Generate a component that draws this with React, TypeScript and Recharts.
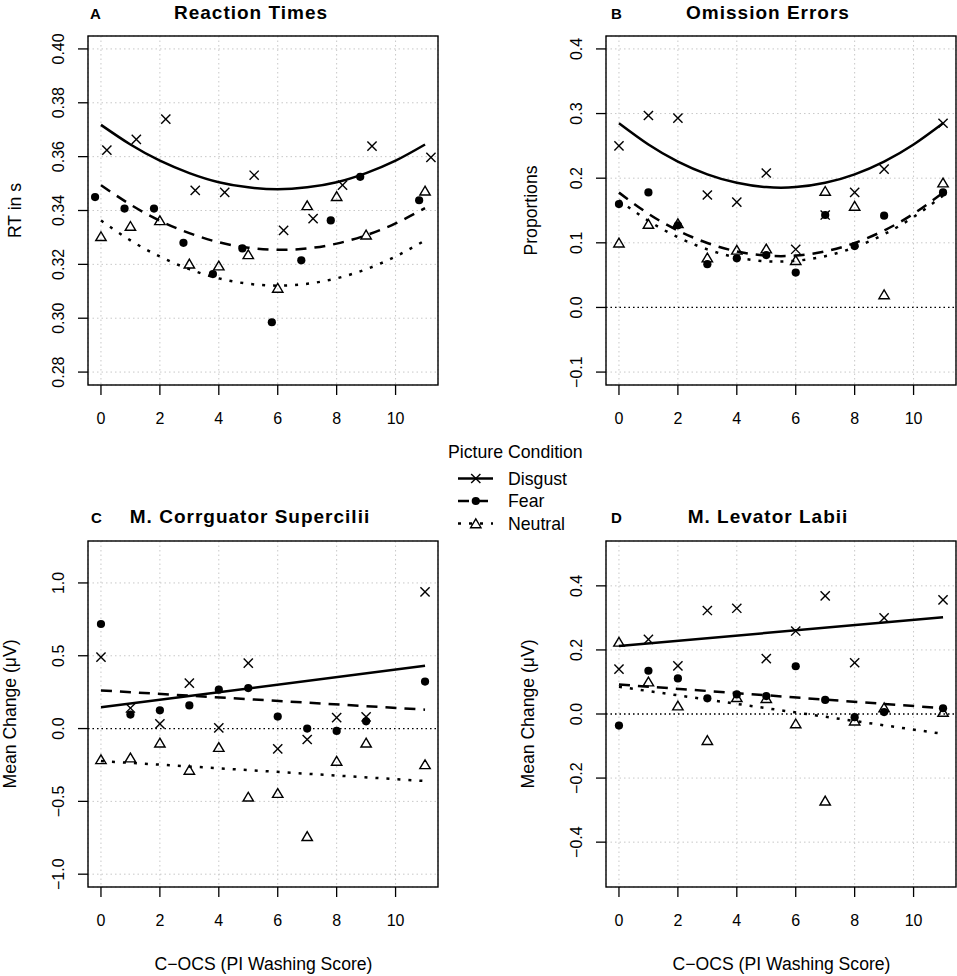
import React from "react";
import {
  CartesianGrid,
  ComposedChart,
  Line,
  ReferenceLine,
  Scatter,
  XAxis,
  YAxis,
} from "recharts";

const FONT = '"Liberation Sans", Arial, Helvetica, sans-serif';
const INK = "#000";
const GRID = "#c8c8c8";

// C-OCS washing scores that occur in the sample (no 10)
const washScore = [0, 1, 2, 3, 4, 5, 6, 7, 8, 9, 11];
const curveX = [0, 1, 2, 3, 4, 5, 6, 7, 8, 9, 10, 11];
const lineX = [0, 11];
const xTicks = [0, 2, 4, 6, 8, 10];
const X_DOMAIN: [number, number] = [-0.44, 11.44];

// A: reaction times (s)
const rtDisgust = [0.3624, 0.3664, 0.3739, 0.3475, 0.3467, 0.3531, 0.3326, 0.337, 0.3494, 0.3639, 0.3597];
const rtFear = [0.345, 0.3407, 0.3407, 0.328, 0.3164, 0.3259, 0.2985, 0.3215, 0.3363, 0.3525, 0.3438];
const rtNeutral = [0.3304, 0.3342, 0.3363, 0.3202, 0.3195, 0.3237, 0.3112, 0.3419, 0.3453, 0.331, 0.3473];
const rtFitDisgust = [0.3718, 0.3645, 0.3585, 0.3539, 0.3505, 0.3486, 0.3479, 0.3486, 0.3505, 0.3539, 0.3585, 0.3645];
const rtFitFear = [0.3494, 0.3422, 0.3362, 0.3316, 0.3282, 0.3262, 0.3254, 0.3259, 0.3277, 0.3308, 0.3352, 0.3409];
const rtFitNeutral = [0.3363, 0.3289, 0.3229, 0.3182, 0.3148, 0.3128, 0.3121, 0.3128, 0.3148, 0.3182, 0.3229, 0.3289];
const rtTicks = [0.28, 0.3, 0.32, 0.34, 0.36, 0.38, 0.4];

// B: omission errors (proportions)
const omDisgust = [0.25, 0.297, 0.293, 0.174, 0.163, 0.208, 0.09, 0.143, 0.178, 0.214, 0.285];
const omFear = [0.16, 0.178, 0.127, 0.067, 0.076, 0.081, 0.054, 0.143, 0.095, 0.142, 0.178];
const omNeutral = [0.1, 0.129, 0.13, 0.077, 0.089, 0.091, 0.073, 0.18, 0.157, 0.02, 0.193];
const omFitDisgust = [0.285, 0.2521, 0.2257, 0.206, 0.1928, 0.1862, 0.1862, 0.1928, 0.206, 0.2257, 0.2521, 0.285];
const omFitFear = [0.1777, 0.145, 0.1191, 0.0997, 0.0867, 0.0802, 0.0802, 0.0867, 0.0997, 0.1191, 0.145, 0.1777];
const omFitNeutral = [0.166, 0.1341, 0.1087, 0.0898, 0.0774, 0.0715, 0.0722, 0.0793, 0.093, 0.1132, 0.14, 0.173];
const omTicks = [-0.1, 0, 0.1, 0.2, 0.3, 0.4];

// C: corrugator (mean change, µV)
const corDisgust = [0.49, 0.141, 0.032, 0.312, 0.005, 0.449, -0.139, -0.075, 0.075, 0.08, 0.938];
const corFear = [0.718, 0.096, 0.125, 0.159, 0.267, 0.278, 0.082, 0.0, -0.016, 0.05, 0.323];
const corNeutral = [-0.212, -0.2, -0.098, -0.285, -0.128, -0.469, -0.444, -0.74, -0.223, -0.098, -0.246];
const corFitDisgust = [0.146, 0.431];
const corFitFear = [0.262, 0.13];
const corFitNeutral = [-0.223, -0.36];
const corTicks = [-1, -0.5, 0, 0.5, 1];

// D: levator (mean change, µV)
const levDisgust = [0.14, 0.233, 0.15, 0.323, 0.33, 0.173, 0.259, 0.369, 0.16, 0.3, 0.356];
const levFear = [-0.036, 0.135, 0.111, 0.049, 0.061, 0.056, 0.149, 0.044, -0.01, 0.006, 0.018];
const levNeutral = [0.225, 0.101, 0.026, -0.082, 0.052, 0.049, -0.03, -0.271, -0.021, 0.02, 0.006];
const levFitDisgust = [0.212, 0.302];
const levFitFear = [0.092, 0.018];
const levFitNeutral = [0.085, -0.062];
const levTicks = [-0.4, -0.2, 0, 0.2, 0.4];

type Cond = "Disgust" | "Fear" | "Neutral";

const DASH: Record<Cond, string | undefined> = {
  Disgust: undefined,
  Fear: "11 8",
  Neutral: "3 8",
};

function Marker({ kind, cx, cy }: { kind: Cond; cx: number; cy: number }) {
  if (kind === "Disgust") {
    const r = 4.6;
    return (
      <g stroke={INK} strokeWidth={1.4}>
        <line x1={cx - r} y1={cy - r} x2={cx + r} y2={cy + r} />
        <line x1={cx - r} y1={cy + r} x2={cx + r} y2={cy - r} />
      </g>
    );
  }
  if (kind === "Fear") return <circle cx={cx} cy={cy} r={4.1} fill={INK} />;
  return (
    <polygon
      points={`${cx},${cy - 4.6} ${cx - 5.2},${cy + 4.2} ${cx + 5.2},${cy + 4.2}`}
      fill="none"
      stroke={INK}
      strokeWidth={1.4}
    />
  );
}

const minus = (s: string) => s.replace("-", "\u2212");

type Series = { kind: Cond; values: number[]; fit: number[] };
type Box = { l: number; t: number; r: number; b: number };

type PanelProps = {
  left: number;
  top: number;
  width: number;
  height: number;
  plot: Box;
  yDomain: [number, number];
  yTicks: number[];
  digits: number;
  fitX: number[];
  curved: boolean;
  jitter: Record<Cond, number>;
  series: Series[];
  zeroLine: boolean;
};

function Panel(p: PanelProps) {
  const yTick = (t: any) => {
    const bx = t.x - 14.3;
    return (
      <text
        x={bx}
        y={t.y}
        transform={`rotate(-90 ${bx} ${t.y})`}
        textAnchor="middle"
        fontSize={16}
        fontFamily={FONT}
        fill={INK}
      >
        {minus(Number(t.payload.value).toFixed(p.digits))}
      </text>
    );
  };
  const xTick = (t: any) => (
    <text x={t.x} y={t.y + 29} textAnchor="middle" fontSize={16} fontFamily={FONT} fill={INK}>
      {t.payload.value}
    </text>
  );

  return (
    <div style={{ position: "absolute", left: p.left, top: p.top, width: p.width, height: p.height }}>
      <ComposedChart
        width={p.width}
        height={p.height}
        margin={{ top: p.plot.t, left: p.plot.l - 50, right: p.width - p.plot.r, bottom: p.height - p.plot.b - 40 }}
      >
        <CartesianGrid stroke={GRID} strokeDasharray="1.5 3" />
        <XAxis
          type="number"
          dataKey="x"
          domain={X_DOMAIN}
          ticks={xTicks}
          interval={0}
          allowDataOverflow
          height={40}
          axisLine={false}
          tickLine={{ stroke: INK, strokeWidth: 1.3 }}
          tickSize={10}
          tickMargin={0}
          tick={xTick}
        />
        <YAxis
          type="number"
          dataKey="y"
          domain={p.yDomain}
          ticks={p.yTicks}
          interval={0}
          allowDataOverflow
          width={50}
          axisLine={false}
          tickLine={{ stroke: INK, strokeWidth: 1.3 }}
          tickSize={10}
          tickMargin={0}
          tick={yTick}
        />
        {p.zeroLine && <ReferenceLine y={0} stroke={INK} strokeWidth={1.3} strokeDasharray="1.5 3" />}
        {p.series.map((s) => (
          <Scatter
            key={`pts-${s.kind}`}
            data={washScore.map((x, i) => ({ x: x + p.jitter[s.kind], y: s.values[i] }))}
            shape={(sp: any) => <Marker kind={s.kind} cx={sp.cx} cy={sp.cy} />}
            isAnimationActive={false}
          />
        ))}
        {p.series.map((s) => (
          <Line
            key={`fit-${s.kind}`}
            data={p.fitX.map((x, i) => ({ x, y: s.fit[i] }))}
            dataKey="y"
            type={p.curved ? "natural" : "linear"}
            stroke={INK}
            strokeWidth={2.5}
            strokeDasharray={DASH[s.kind]}
            dot={false}
            activeDot={false}
            isAnimationActive={false}
          />
        ))}
      </ComposedChart>
    </div>
  );
}

const noJitter = { Disgust: 0, Fear: 0, Neutral: 0 };

// plot boxes in page coordinates
const boxA: Box = { l: 88, t: 36, r: 438, b: 385 };
const boxB: Box = { l: 606, t: 36, r: 956, b: 385 };
const boxC: Box = { l: 88, t: 541, r: 438, b: 887 };
const boxD: Box = { l: 606, t: 541, r: 956, b: 887 };

const local = (b: Box, x: number, y: number): Box => ({ l: b.l - x, t: b.t - y, r: b.r - x, b: b.b - y });

export default function App() {
  const titleStyle = { fontFamily: FONT, fontWeight: 700, fill: INK } as const;
  const labelStyle = { fontFamily: FONT, fontSize: 17.6, fill: INK } as const;
  const legendRows: { kind: Cond; y: number }[] = [
    { kind: "Disgust", y: 478.5 },
    { kind: "Fear", y: 501 },
    { kind: "Neutral", y: 523.5 },
  ];

  return (
    <div style={{ position: "absolute", left: 0, top: 0, width: 957, height: 976, background: "#fff", overflow: "hidden" }}>
      <Panel
        left={0}
        top={0}
        width={478}
        height={480}
        plot={local(boxA, 0, 0)}
        yDomain={[0.2752, 0.4048]}
        yTicks={rtTicks}
        digits={2}
        fitX={curveX}
        curved
        jitter={{ Disgust: 0.2, Fear: -0.2, Neutral: 0 }}
        zeroLine={false}
        series={[
          { kind: "Disgust", values: rtDisgust, fit: rtFitDisgust },
          { kind: "Fear", values: rtFear, fit: rtFitFear },
          { kind: "Neutral", values: rtNeutral, fit: rtFitNeutral },
        ]}
      />
      <Panel
        left={478}
        top={0}
        width={479}
        height={480}
        plot={local(boxB, 478, 0)}
        yDomain={[-0.12, 0.42]}
        yTicks={omTicks}
        digits={1}
        fitX={curveX}
        curved
        jitter={noJitter}
        zeroLine
        series={[
          { kind: "Disgust", values: omDisgust, fit: omFitDisgust },
          { kind: "Fear", values: omFear, fit: omFitFear },
          { kind: "Neutral", values: omNeutral, fit: omFitNeutral },
        ]}
      />
      <Panel
        left={0}
        top={480}
        width={478}
        height={496}
        plot={local(boxC, 0, 480)}
        yDomain={[-1.088, 1.288]}
        yTicks={corTicks}
        digits={1}
        fitX={lineX}
        curved={false}
        jitter={noJitter}
        zeroLine
        series={[
          { kind: "Disgust", values: corDisgust, fit: corFitDisgust },
          { kind: "Fear", values: corFear, fit: corFitFear },
          { kind: "Neutral", values: corNeutral, fit: corFitNeutral },
        ]}
      />
      <Panel
        left={478}
        top={480}
        width={479}
        height={496}
        plot={local(boxD, 478, 480)}
        yDomain={[-0.54, 0.54]}
        yTicks={levTicks}
        digits={1}
        fitX={lineX}
        curved={false}
        jitter={noJitter}
        zeroLine
        series={[
          { kind: "Disgust", values: levDisgust, fit: levFitDisgust },
          { kind: "Fear", values: levFear, fit: levFitFear },
          { kind: "Neutral", values: levNeutral, fit: levFitNeutral },
        ]}
      />

      <svg
        width={957}
        height={976}
        style={{ position: "absolute", left: 0, top: 0, pointerEvents: "none" }}
      >
        {/* frames round the plot regions */}
        {[boxA, boxB, boxC, boxD].map((b, i) => (
          <rect key={i} x={b.l} y={b.t} width={b.r - b.l} height={b.b - b.t} fill="none" stroke={INK} strokeWidth={1.4} />
        ))}

        {/* panel letters and titles */}
        <text x={90} y={18.5} fontSize={15} {...titleStyle}>A</text>
        <text x={251} y={18.5} fontSize={19} letterSpacing={1} textAnchor="middle" {...titleStyle}>Reaction Times</text>
        <text x={611} y={18.5} fontSize={15} {...titleStyle}>B</text>
        <text x={768} y={18.5} fontSize={19} letterSpacing={1} textAnchor="middle" {...titleStyle}>Omission Errors</text>
        <text x={91} y={522.7} fontSize={15} {...titleStyle}>C</text>
        <text x={250} y={522.7} fontSize={19} letterSpacing={1} textAnchor="middle" {...titleStyle}>M. Corrguator Supercilii</text>
        <text x={611} y={522.7} fontSize={15} {...titleStyle}>D</text>
        <text x={768} y={522.7} fontSize={19} letterSpacing={1} textAnchor="middle" {...titleStyle}>M. Levator Labii</text>

        {/* axis titles */}
        <text x={20.9} y={210.5} transform="rotate(-90 20.9 210.5)" textAnchor="middle" {...labelStyle}>RT in s</text>
        <text x={537.3} y={210.5} transform="rotate(-90 537.3 210.5)" textAnchor="middle" {...labelStyle}>Proportions</text>
        <text x={16} y={714} transform="rotate(-90 16 714)" textAnchor="middle" {...labelStyle}>Mean Change (μV)</text>
        <text x={534} y={714} transform="rotate(-90 534 714)" textAnchor="middle" {...labelStyle}>Mean Change (μV)</text>
        <text x={263.5} y={970} textAnchor="middle" {...labelStyle}>C−OCS (PI Washing Score)</text>
        <text x={781.5} y={970} textAnchor="middle" {...labelStyle}>C−OCS (PI Washing Score)</text>

        {/* shared legend */}
        <text x={448} y={458} fontFamily={FONT} fontSize={17.7} fill={INK}>Picture Condition</text>
        {legendRows.map((r) => (
          <g key={r.kind}>
            <line
              x1={458}
              x2={493}
              y1={r.y}
              y2={r.y}
              stroke={INK}
              strokeWidth={2.5}
              strokeDasharray={DASH[r.kind]}
            />
            <Marker kind={r.kind} cx={475.8} cy={r.y} />
            <text x={508} y={r.y + 6} fontFamily={FONT} fontSize={17.7} fill={INK}>{r.kind}</text>
          </g>
        ))}
      </svg>
    </div>
  );
}
